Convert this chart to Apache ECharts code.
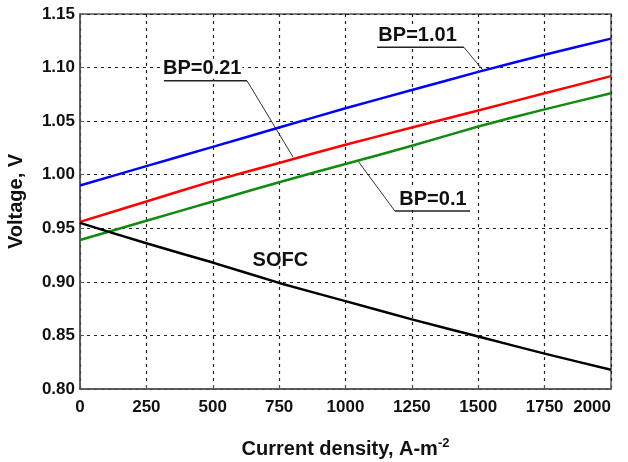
<!DOCTYPE html>
<html>
<head>
<meta charset="utf-8">
<script src="https://cdn.jsdelivr.net/npm/echarts@6/dist/echarts.min.js"></script>
<style>
  html, body { margin: 0; padding: 0; background: #fff; }
  #chart { width: 628px; height: 462px; }
</style>
</head>
<body>
<div id="chart"></div>
<script>
const currents = [0, 250, 500, 750, 1000, 1250, 1500, 1750, 2000];
const bp101 = [0.990, 1.008, 1.026, 1.044, 1.062, 1.079, 1.096, 1.112, 1.127];
const bp021 = [0.956, 0.975, 0.994, 1.011, 1.028, 1.044, 1.060, 1.076, 1.092];
const bp01 = [0.939, 0.957, 0.975, 0.993, 1.010, 1.027, 1.045, 1.061, 1.076];
const sofc = [0.955, 0.936, 0.918, 0.899, 0.882, 0.865, 0.849, 0.833, 0.818];

// annotation anchors, in data units: text start, underline [x1, x2, y], leader end
const notes = [
  {text: 'BP=0.21', at: [309, 1.0877], line: [[316, 1.0877], [629, 1.0877], [803, 1.0163]]},
  {text: 'BP=1.01', at: [1120, 1.1189], line: [[1119, 1.1189], [1446, 1.1189], [1519, 1.0972]]},
  {text: 'BP=0.1', at: [1199, 0.9661], line: [[1469, 0.9661], [1186, 0.9661], [1048, 1.0125]]},
  {text: 'SOFC', at: [650, null], y: 0.9197}
];

const font = 'Liberation Sans, Arial, sans-serif';
const pairs = (ys) => currents.map((x, i) => [x, ys[i]]);

var myChart = echarts.init(document.getElementById('chart'));

const line = (name, ys, color) => ({
  name,
  type: 'line',
  data: pairs(ys),
  showSymbol: false,
  smooth: 0.2,
  silent: true,
  lineStyle: {color, width: 2.5},
  itemStyle: {color}
});

myChart.setOption({
  animation: false,
  textStyle: {fontFamily: font, fontWeight: 'bold', color: '#111'},
  grid: {
    left: 80, right: 17, top: 14, bottom: 73,
    outerBoundsMode: 'none',
    show: true, borderColor: '#555', borderWidth: 1.5
  },
  xAxis: {
    type: 'value',
    min: 0, max: 2000, interval: 250,
    name: 'Current density, A-m{sup|-2}',
    nameLocation: 'middle',
    nameGap: 48,
    nameTextStyle: {
      fontSize: 20, fontWeight: 'bold', color: '#111', fontFamily: font,
      rich: {sup: {fontSize: 13, fontWeight: 'bold', color: '#111', fontFamily: font, verticalAlign: 'top', padding: [0, 0, 12, 0]}}
    },
    axisLine: {lineStyle: {color: '#555', width: 1.5}},
    axisTick: {inside: true, length: 4, lineStyle: {color: '#555'}},
    axisLabel: {fontSize: 17, fontWeight: 'bold', color: '#111', margin: 10,
      alignMaxLabel: 'right',
      formatter: (v) => String(v)},
    splitLine: {show: true, lineStyle: {color: '#222', type: [3, 4], width: 1.2}}
  },
  yAxis: {
    type: 'value',
    min: 0.8, max: 1.15, interval: 0.05,
    name: 'Voltage, V',
    nameLocation: 'middle',
    nameGap: 54,
    nameTextStyle: {fontSize: 20, fontWeight: 'bold', color: '#111', fontFamily: font},
    axisLine: {lineStyle: {color: '#555', width: 1.5}},
    axisTick: {inside: true, length: 4, lineStyle: {color: '#555'}},
    axisLabel: {fontSize: 17, fontWeight: 'bold', color: '#111', margin: 5,
      formatter: (v) => v.toFixed(2)},
    splitLine: {show: true, lineStyle: {color: '#222', type: [3, 4], width: 1.2}}
  },
  series: [
    line('BP=1.01', bp101, '#0000ff'),
    line('BP=0.21', bp021, '#ff0000'),
    line('BP=0.1', bp01, '#108a10'),
    line('SOFC', sofc, '#000000')
  ]
});

// labels with underline and leader line
const toPx = (p) => myChart.convertToPixel({gridIndex: 0}, p);
const graphics = [];
notes.forEach((n) => {
  if (n.line) {
    const pts = n.line.map(toPx);
    const start = toPx(n.at);
    graphics.push({
      type: 'polyline',
      shape: {points: pts.slice(0, 2)},
      style: {stroke: '#222', lineWidth: 1.5, fill: null}
    });
    graphics.push({
      type: 'line',
      shape: {x1: pts[1][0], y1: pts[1][1], x2: pts[2][0], y2: pts[2][1]},
      style: {stroke: '#333', lineWidth: 1}
    });
    graphics.push({
      type: 'text',
      x: start[0], y: start[1] - 12,
      style: {text: n.text, font: 'bold 20px ' + font, fill: '#111',
        textAlign: 'left', textVerticalAlign: 'middle',
        backgroundColor: '#fff', padding: [0, 1]}
    });
  } else {
    const start = toPx([n.at[0], n.y]);
    graphics.push({
      type: 'text',
      x: start[0], y: start[1],
      style: {text: n.text, font: 'bold 20px ' + font, fill: '#111',
        textAlign: 'left', textVerticalAlign: 'middle'}
    });
  }
});
myChart.setOption({graphic: graphics});
</script>
</body>
</html>
